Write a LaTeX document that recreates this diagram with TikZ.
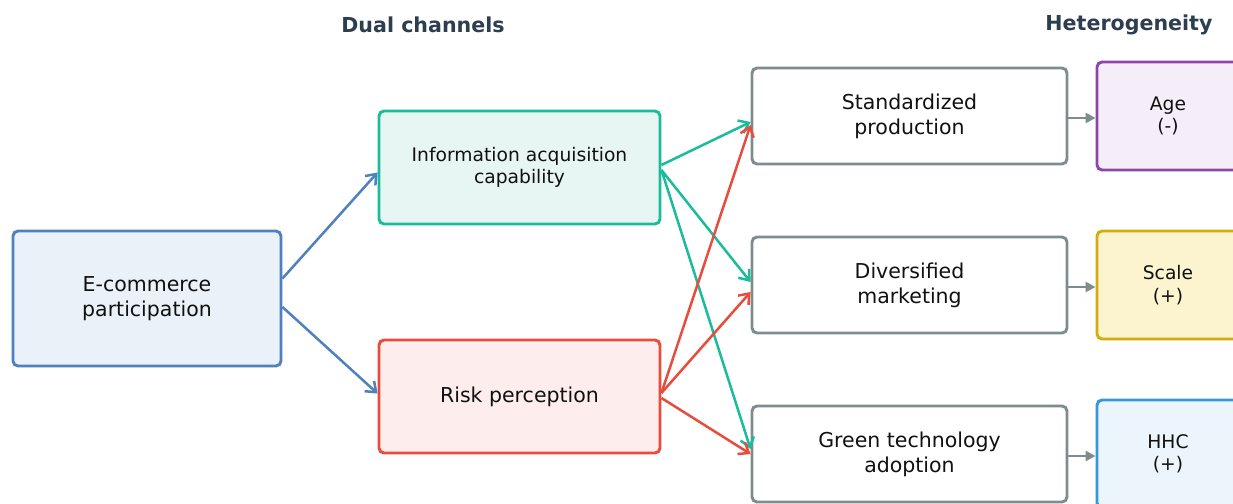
\documentclass[tikz,border=0pt]{standalone}
\usepackage{fontspec}
\setmainfont{DejaVu Sans}
\usetikzlibrary{arrows.meta}
\definecolor{titlec}{HTML}{2C3E50}
\definecolor{bluec}{HTML}{4E81BE}
\definecolor{bluef}{HTML}{EAF1F8}
\definecolor{tealc}{HTML}{1ABC9C}
\definecolor{tealf}{HTML}{E8F6F3}
\definecolor{redc}{HTML}{E74C3C}
\definecolor{redf}{HTML}{FDEDEC}
\definecolor{grayc}{HTML}{7F8C8D}
\definecolor{purc}{HTML}{8E44AD}
\definecolor{purf}{HTML}{F5EEF8}
\definecolor{yelc}{HTML}{D4AC0D}
\definecolor{yelf}{HTML}{FCF3CF}
\definecolor{skyc}{HTML}{3498DB}
\definecolor{skyf}{HTML}{EBF5FB}
\definecolor{txt}{HTML}{111111}
\tikzset{
  box/.style={draw, line width=2.9pt, rounded corners=5pt, align=center,
    text=txt, inner sep=0pt, font=\fontsize{20.5}{25}\selectfont},
  small box/.style={box, font=\fontsize{18.7}{22.5}\selectfont},
  title/.style={font=\bfseries\fontsize{20.6}{24}\selectfont, text=titlec},
  link/.style={line width=2.5pt, -{Straight Barb[length=9pt,width=14pt,line width=2.5pt]}},
  gray link/.style={line width=2.5pt, draw=grayc, -{Triangle[length=10pt,width=10pt]}},
}
\begin{document}
\begin{tikzpicture}[x=1pt, y=-1pt]
\useasboundingbox (0,0) rectangle (1233,503);
\clip (0,0) rectangle (1233,503);
\fill[white] (0,0) rectangle (1233,503);

% column titles
\node[title] (t1) at (423,25) {Dual channels};
\node[title] (t2) at (1129,25) {Heterogeneity};

% explanatory variable
\node[box, draw=bluec, fill=bluef, minimum width=268pt, minimum height=135pt]
  (ecom) at (147,298.5) {E-commerce\\participation};

% mechanism channels
\node[small box, draw=tealc, fill=tealf, minimum width=281pt, minimum height=113pt]
  (info) at (519.5,167.5) {Information acquisition\\capability};
\node[box, draw=redc, fill=redf, minimum width=281pt, minimum height=113pt]
  (risk) at (519.5,396.5) {Risk perception};

% outcomes
\node[box, draw=grayc, fill=white, minimum width=315pt, minimum height=96pt]
  (std) at (909.5,116) {Standardized\\production};
\node[box, draw=grayc, fill=white, minimum width=315pt, minimum height=96pt]
  (div) at (909.5,285) {Diversified\\marketing};
\node[box, draw=grayc, fill=white, minimum width=315pt, minimum height=96pt]
  (grn) at (909.5,454) {Green technology\\adoption};

% heterogeneity groups
\node[small box, draw=purc, fill=purf, minimum width=142pt, minimum height=108pt]
  (age) at (1168,116) {Age\\(-)};
\node[small box, draw=yelc, fill=yelf, minimum width=142pt, minimum height=108pt]
  (scale) at (1168,285) {Scale\\(+)};
\node[small box, draw=skyc, fill=skyf, minimum width=142pt, minimum height=108pt]
  (hhc) at (1168,454) {HHC\\(+)};

% e-commerce to channels
\draw[link, bluec] ([yshift=20pt]ecom.east) -- ([yshift=-5pt]info.west);
\draw[link, bluec] ([yshift=-8.5pt]ecom.east) -- ([yshift=3pt]risk.west);

% information channel to outcomes
\draw[link, tealc] ([yshift=2.5pt]info.east) -- ([yshift=-6pt]std.west);
\draw[link, tealc] ([yshift=-2.5pt]info.east) -- ([yshift=3pt]div.west);
\draw[link, tealc] ([yshift=-2.5pt]info.east) -- ([yshift=5pt]grn.west);

% risk channel to outcomes
\draw[link, redc] ([yshift=3.5pt]risk.east) -- ([yshift=-9pt]std.west);
\draw[link, redc] ([yshift=3.5pt]risk.east) -- ([yshift=-7pt]div.west);
\draw[link, redc] ([yshift=-1.5pt]risk.east) -- (grn.west);

% outcomes to heterogeneity
\draw[gray link] ([yshift=-2pt]std.east) -- ([yshift=-2pt]age.west);
\draw[gray link] ([yshift=-2pt]div.east) -- ([yshift=-2pt]scale.west);
\draw[gray link] ([yshift=-2pt]grn.east) -- ([yshift=-2pt]hhc.west);
\end{tikzpicture}
\end{document}
